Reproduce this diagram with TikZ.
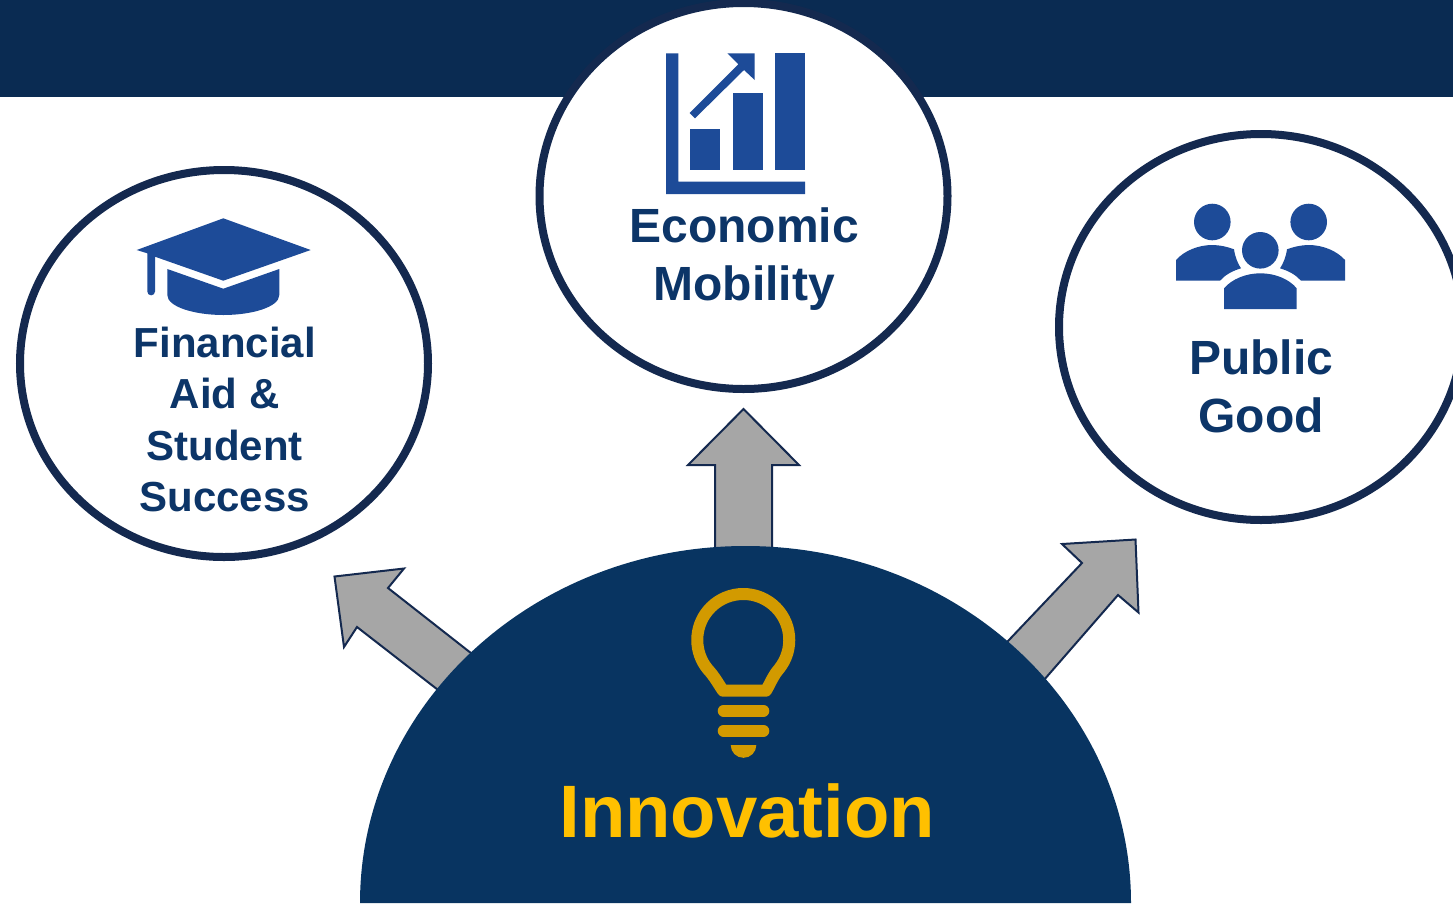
\documentclass[tikz,border=0pt]{standalone}
\usepackage{fontspec}
\setmainfont{Liberation Sans}
\usetikzlibrary{shapes.geometric}
\definecolor{headerblue}{HTML}{0A2B52}
\definecolor{ringblue}{HTML}{14294F}
\definecolor{domeblue}{HTML}{083461}
\definecolor{iconblue}{HTML}{1D4B98}
\definecolor{textblue}{HTML}{0C3568}
\definecolor{arrowgrey}{HTML}{A6A6A6}
\definecolor{bulbgold}{HTML}{D29A00}
\definecolor{wordgold}{HTML}{FFC000}
\tikzset{
  ring/.style={ellipse,draw=ringblue,line width=8pt,fill=white,inner sep=0pt,outer sep=0pt},
  blockarrow/.style={draw=ringblue,line width=2pt,fill=arrowgrey,line join=miter},
  icon/.style={fill=iconblue,draw=none},
  label/.style={text=textblue,font=\bfseries,align=center,inner sep=0pt},
  bulbline/.style={draw=bulbgold,line width=12pt,line join=round},
  bulbbar/.style={draw=bulbgold,line width=11.6pt,line cap=round},
}
\begin{document}
\begin{tikzpicture}[x=1pt,y=-1pt]
\useasboundingbox (0,0) rectangle (1453,903);
\fill[headerblue] (0,0) rectangle (1453,97);
% block arrows
\draw[blockarrow] (743.5,409) -- (799,465) -- (772,465) -- (772,560) -- (715,560) -- (715,465) -- (688,465) -- cycle;
\draw[blockarrow] (334.5,576.5) -- (404,568.5) -- (388,588) -- (490,668) -- (460,707) -- (357,627) -- (344,647) -- cycle;
\draw[blockarrow] (1135.5,539.5) -- (1062,544) -- (1082,563) -- (990,660) -- (1030,696) -- (1118,595) -- (1138.5,612.5) -- cycle;
% dome
\fill[domeblue] (360,903) arc[start angle=180,end angle=360,x radius=385.5,y radius=357];
% rings
\node[ring,minimum width=408pt,minimum height=386pt] (mobility) at (743.5,196) {};
\node[ring,minimum width=408pt,minimum height=387pt] (aid) at (224,363.5) {};
\node[ring,minimum width=404pt,minimum height=386pt] (good) at (1261,327) {};
% chart icon
\fill[icon] (666,53.3) -- (678.3,53.3) -- (678.3,181.7) -- (805,181.7) -- (805,194) -- (666,194) -- cycle;
\fill[icon] (690.3,129.3) rectangle (720.3,169.7);
\fill[icon] (732.7,93.3) rectangle (762.7,169.7);
\fill[icon] (774.7,53.3) rectangle (805,169.7);
\fill[icon] (727.3,53.3) -- (754.7,53.3) -- (754.7,80) -- (744,70) -- (695,118.3) -- (689.7,113) -- (738.3,64.3) -- cycle;
% cap icon
\fill[icon] (223.3,218.3) -- (310.7,250) -- (223.3,280.7) -- (155,256.7) -- (155,291.5) arc[start angle=0,end angle=180,radius=3.85] -- (147.3,253.3) -- (136.7,250) -- cycle;
\fill[icon] (167.3,269) -- (223.3,288.7) -- (279.3,269) -- (279.3,295) .. controls (279.3,307) and (252,315) .. (223.3,315) .. controls (195,315) and (167.3,307) .. (167.3,295) -- cycle;
% people icon
\fill[icon] (1212.3,222) circle[radius=18.3];
\fill[icon] (1308.7,222) circle[radius=18.3];
\fill[icon] (1260.3,250.3) circle[radius=18.3];
\fill[icon] (1176,280.7) -- (1176,260) .. controls (1184,251) and (1198,245) .. (1212.3,245) .. controls (1220,245) and (1228,247) .. (1234,249.3) .. controls (1235,257) and (1238,264) .. (1241,268.3) .. controls (1232,271) and (1225,275) .. (1220,280.7) -- cycle;
\fill[icon] (1345,280.7) -- (1345,260) .. controls (1337,251) and (1323,245) .. (1308.7,245) .. controls (1301,245) and (1293,247) .. (1287,249.3) .. controls (1286,257) and (1283,264) .. (1280,268.3) .. controls (1289,271) and (1296,275) .. (1301,280.7) -- cycle;
\fill[icon] (1224,309) -- (1224,288.3) .. controls (1232,279) and (1246,273.3) .. (1260.3,273.3) .. controls (1275,273.3) and (1289,279) .. (1296.7,288.3) -- (1296.7,309) -- cycle;
% bulb icon
\draw[bulbline] (723,690.7) -- (765,690.7) -- (766,690.7) .. controls (772,680) and (773,676) .. (778.7,669.3) arc[start angle=39.6,end angle=-219.6,radius=46] .. controls (714,676) and (716,680) .. (723,690.7) -- cycle;
\draw[bulbbar] (723.5,710.8) -- (763.5,710.8);
\draw[bulbbar] (723.5,730.8) -- (763.5,730.8);
\fill[bulbgold] (730.7,745) -- (756.3,745) arc[start angle=0,end angle=180,radius=12.8] -- cycle;
% texts
\node[label,font=\bfseries\fontsize{42}{51.5}\selectfont] (aidtext) at (224.7,419.5) {Financial\\Aid \&\\Student\\Success};
\node[label,font=\bfseries\fontsize{48}{58}\selectfont] (mobtext) at (744.3,259) {Economic\\Mobility};
\node[label,font=\bfseries\fontsize{48}{58}\selectfont] (goodtext) at (1261,386) {Public\\Good};
\node[text=wordgold,font=\bfseries\fontsize{74.3}{80}\selectfont,inner sep=0pt] (innovation) at (747.3,811) {Innovation};
\end{tikzpicture}
\end{document}
